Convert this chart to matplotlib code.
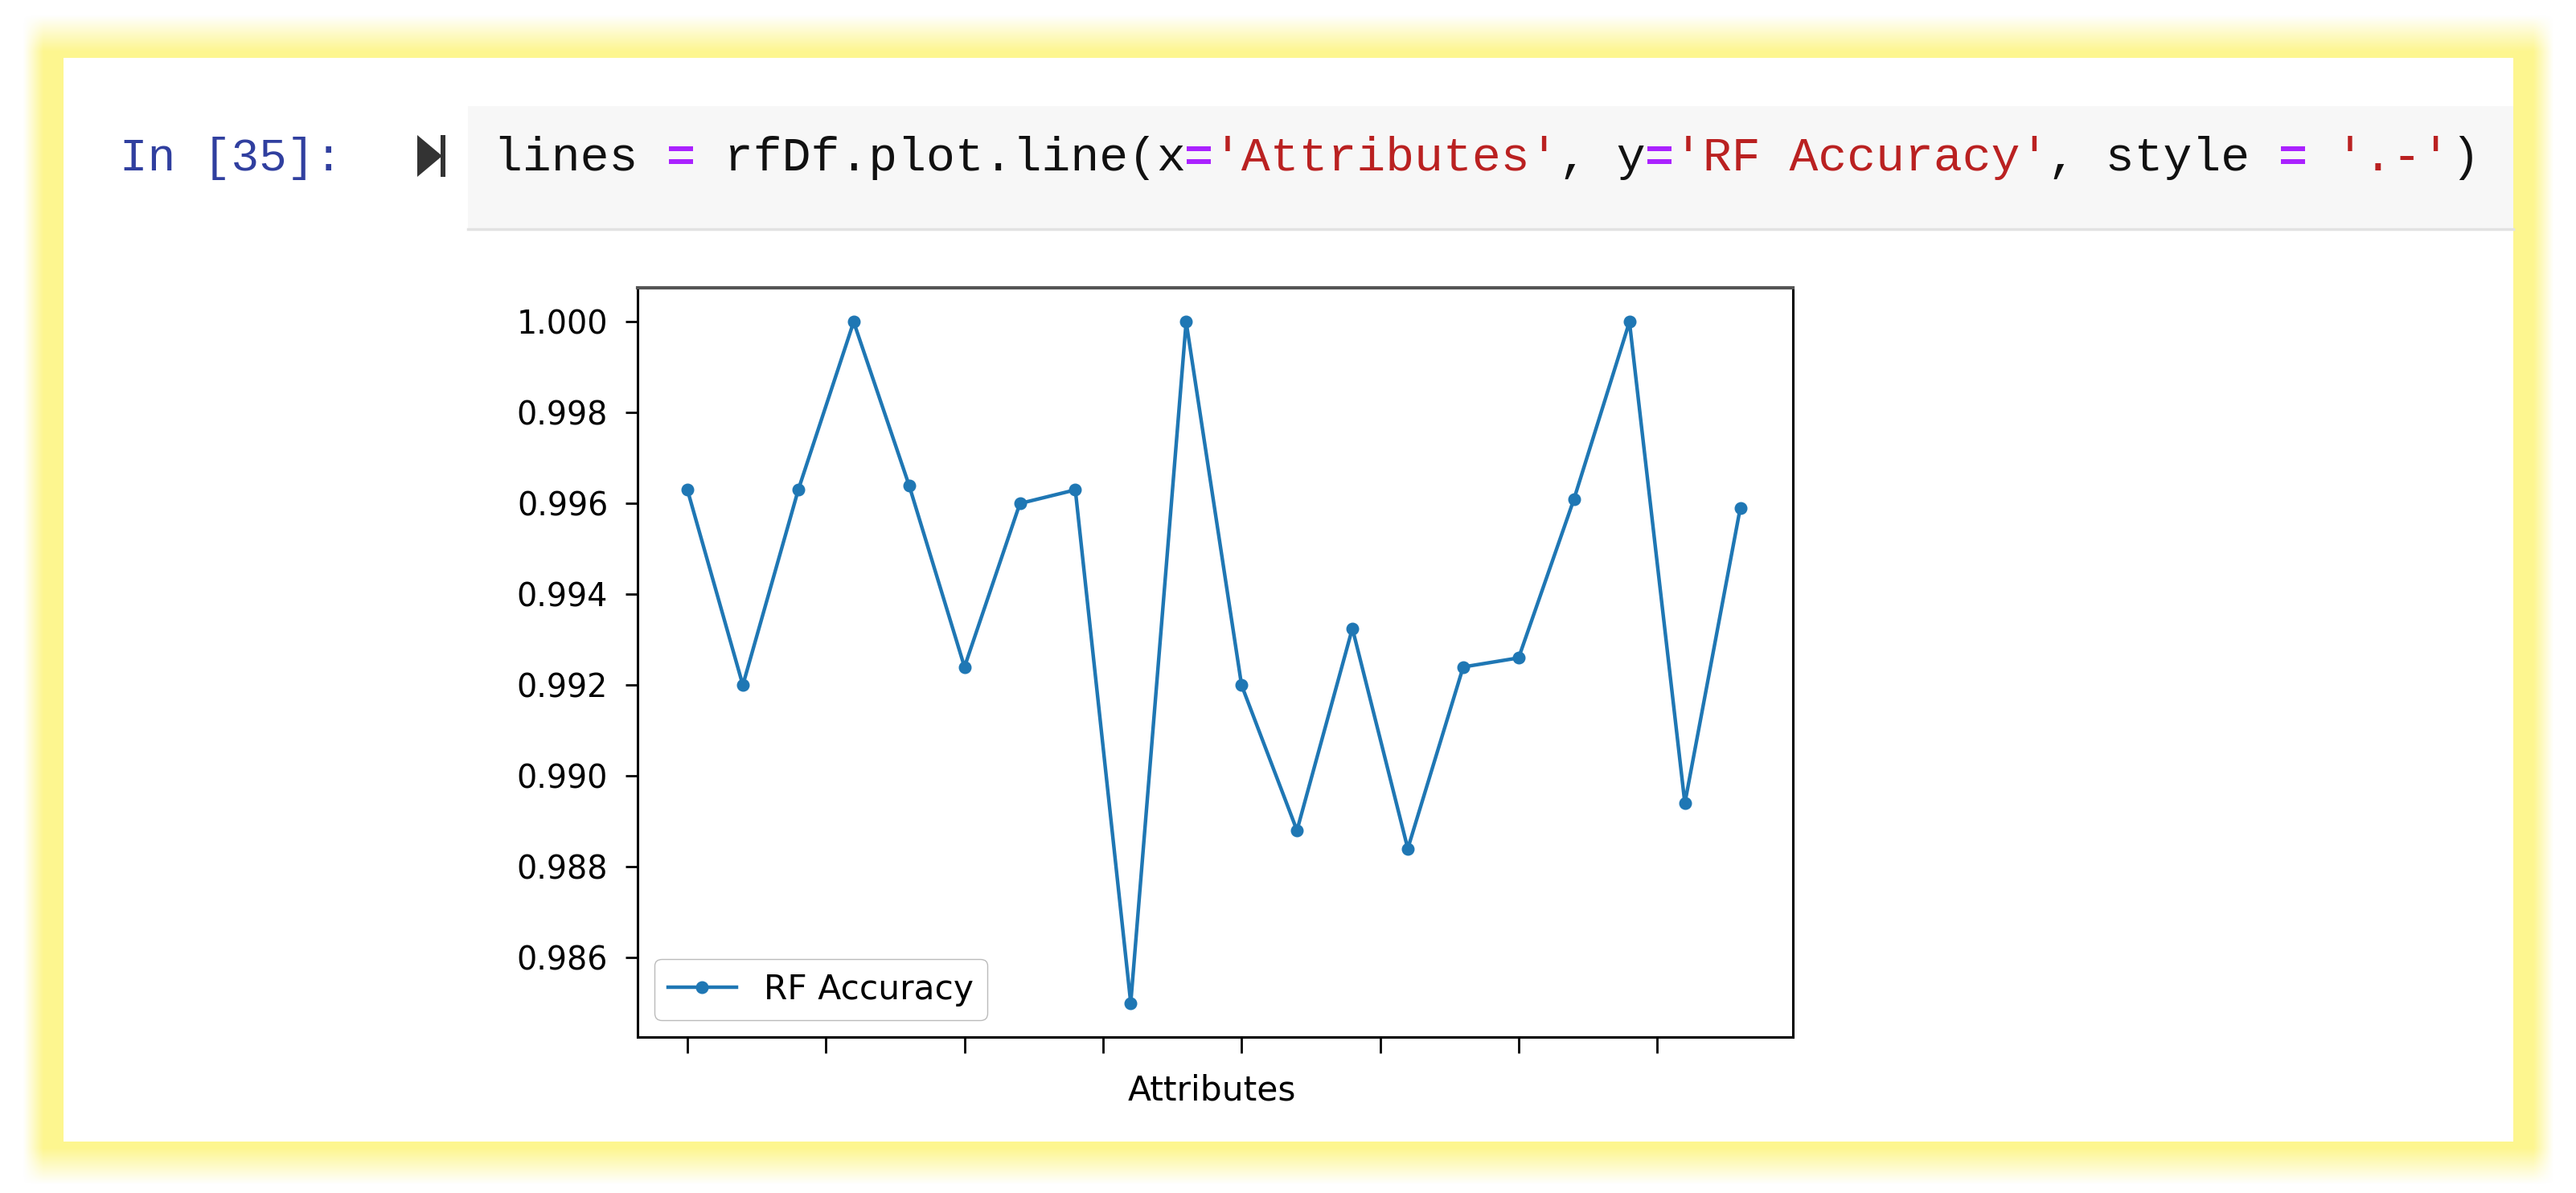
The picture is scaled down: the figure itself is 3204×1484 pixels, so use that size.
import numpy as np
import matplotlib

matplotlib.use("Agg")

import matplotlib.pyplot as plt
from matplotlib.patches import Polygon, Rectangle
from matplotlib.ticker import FormatStrFormatter, MultipleLocator

W, H = 3205, 1484
dpi = 100

# values
attributes = list(range(20))
rf_accuracy = [0.9963, 0.9920, 0.9963, 1.0000, 0.9964, 0.9924, 0.9960, 0.9963, 0.9850, 1.0000,
               0.9920, 0.9888, 0.99325, 0.9884, 0.9924, 0.9926, 0.9961, 1.0000, 0.9894, 0.9959]

prompt = "In [35]:"
code_parts = [
    ("lines ", "#111111", "normal"),
    ("=", "#AA22FF", "bold"),
    (" rfDf.plot.line(x", "#111111", "normal"),
    ("=", "#AA22FF", "bold"),
    ("'Attributes'", "#BA2121", "normal"),
    (", y", "#111111", "normal"),
    ("=", "#AA22FF", "bold"),
    ("'RF Accuracy'", "#BA2121", "normal"),
    (", style ", "#111111", "normal"),
    ("=", "#AA22FF", "bold"),
    (" ", "#111111", "normal"),
    ("'.-'", "#BA2121", "normal"),
    (")", "#111111", "normal"),
]

fig = plt.figure(figsize=(W / dpi, H / dpi), dpi=dpi, facecolor="white")

# background in pixel coords, y going down
bg = fig.add_axes([0, 0, 1, 1])
bg.set_xlim(0, W)
bg.set_ylim(H, 0)
bg.axis("off")

# yellow glow round the white panel, softer above and below than at the sides
left, top, right, bottom = 79, 72, 3126, 1420
xx, yy = np.meshgrid(np.arange(W) + 0.5, np.arange(H) + 0.5)
dx = np.maximum(np.maximum(left - xx, xx - right), 0)
dy = np.maximum(np.maximum(top - yy, yy - bottom), 0)
glow = np.ones((H, W, 4))
glow[..., :3] = matplotlib.colors.to_rgb("#FDF68F")
glow[..., 3] = np.clip(1 - (dx - 25) / 25, 0, 1) * np.clip(1 - (dy - 8) / 45, 0, 1)
bg.imshow(glow, extent=(0, W, H, 0), aspect="auto", interpolation="bilinear", zorder=0)
bg.set_xlim(0, W)
bg.set_ylim(H, 0)
bg.add_patch(Rectangle((left, top), right - left, bottom - top, fc="white", ec="none", zorder=1))

# code cell
bg.add_patch(Rectangle((582, 132), right - 582, 153, fc="#F7F7F7", ec="none", zorder=2))
bg.plot([582, right], [285, 285], color="#E2E2E2", lw=2.5, zorder=3)

bg.text(149, 212, prompt, family="Liberation Mono", fontsize=41.5, color="#303F9F",
        va="baseline", ha="left", zorder=4)

# run button
bg.add_patch(Polygon([(519, 168), (550, 194), (519, 220)], fc="#333333", ec="none", zorder=4))
bg.add_patch(Rectangle((548, 168), 6, 52, fc="#333333", ec="none", zorder=4))

char_w = 35.8
col = 0
for txt, color, weight in code_parts:
    bg.text(614 + col * char_w, 212, txt, family="Liberation Mono", fontsize=43, color=color,
            weight=weight, va="baseline", ha="left", zorder=4)
    col += len(txt)

# the plot
ax_l, ax_r, ax_t, ax_b = 793, 2230, 358, 1290
ax = fig.add_axes([ax_l / W, 1 - ax_b / H, (ax_r - ax_l) / W, (ax_b - ax_t) / H])
ax.plot(attributes, rf_accuracy, ".-", color="#1f77b4", lw=3.2, ms=21, label="RF Accuracy")
ax.set_xlim(-0.90, 19.95)
ax.xaxis.set_major_locator(MultipleLocator(2.5))
ax.yaxis.set_major_locator(MultipleLocator(0.002))
ax.yaxis.set_major_formatter(FormatStrFormatter("%.3f"))
ax.tick_params(axis="x", labelbottom=False, length=14.5, width=2.0)
ax.tick_params(axis="y", labelsize=28.5, length=10.5, width=2.0, pad=16)
ax.set_xlabel("Attributes", fontsize=30.5, labelpad=18, x=0.497)
for s in ax.spines.values():
    s.set_linewidth(2.2)
ax.spines["top"].set_color("#555555")
ax.spines["top"].set_linewidth(3)

ax.legend(loc="lower left", fontsize=30.5, handlelength=2.0, edgecolor="#AAAAAA")

plt.savefig("out.png", dpi=dpi)
